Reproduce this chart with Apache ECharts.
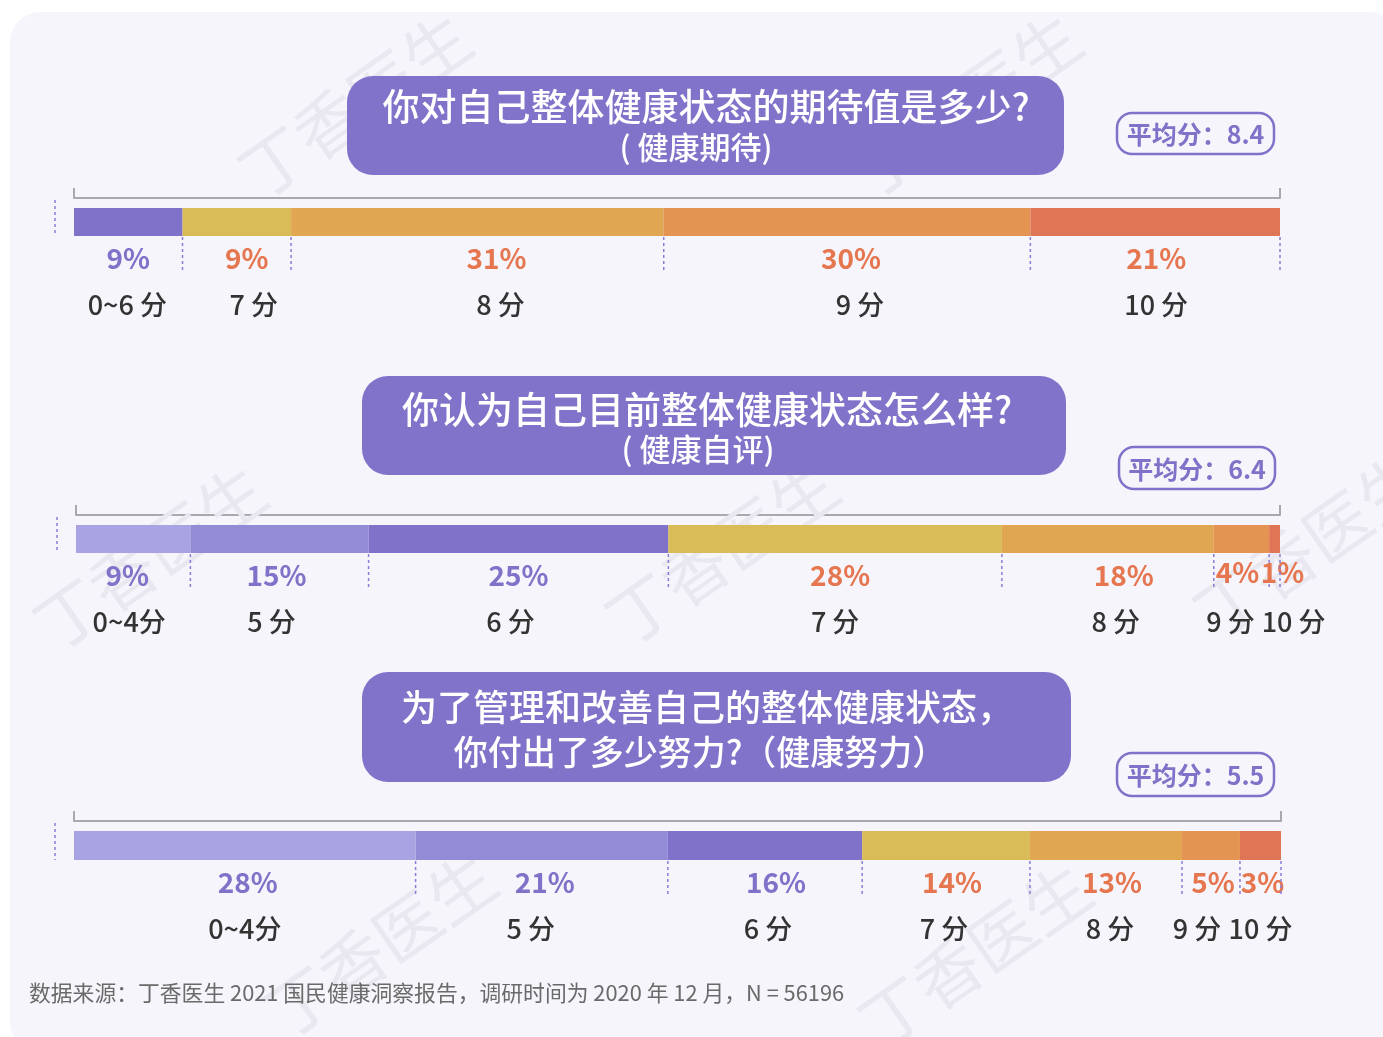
<!DOCTYPE html>
<html>
<head>
<meta charset="utf-8">
<script src="https://cdn.jsdelivr.net/npm/echarts@6/dist/echarts.min.js"></script>
<style>html,body{margin:0;padding:0;background:#fff;}#c{width:1383px;height:1037px;}</style>
</head>
<body>
<div id="c"></div>
<script>
// ---------- data ----------
const cats1 = ['0~6 分', '7 分', '8 分', '9 分', '10 分'];
const vals1 = [9.0, 9.0, 30.9, 30.4, 20.7];
const pct1 = ['9%', '9%', '31%', '30%', '21%'];

const cats2 = ['0~4分', '5 分', '6 分', '7 分', '8 分', '9 分', '10 分'];
const vals2 = [9.5, 14.8, 24.9, 27.7, 17.6, 4.6, 0.9];
const pct2 = ['9%', '15%', '25%', '28%', '18%', '4%', '1%'];

const cats3 = ['0~4分', '5 分', '6 分', '7 分', '8 分', '9 分', '10 分'];
const vals3 = [28.3, 20.9, 16.1, 13.9, 12.6, 4.8, 3.4];
const pct3 = ['28%', '21%', '16%', '14%', '13%', '5%', '3%'];

const titles1 = ['你对自己整体健康状态的期待值是多少?', '( 健康期待)'];
const titles2 = ['你认为自己目前整体健康状态怎么样?', '( 健康自评)'];
const titles3 = ['为了管理和改善自己的整体健康状态，', '你付出了多少努力?（健康努力）'];
const avgLabels = ['平均分：8.4', '平均分：6.4', '平均分：5.5'];
const sourceNote = '数据来源：丁香医生 2021 国民健康洞察报告，调研时间为 2020 年 12 月，N = 56196';

// ---------- styles / layout ----------
const FONT = '"Noto Sans CJK SC", "Noto Sans", sans-serif';
const PURPLE = '#7f72c8';
const ORANGE = '#e5764f';
const colors5 = ['#7f72c8', '#d9bb58', '#e0a652', '#e39452', '#e07556'];
const colors7 = ['#a8a3e3', '#928bd6', '#7f72c8', '#d9bb58', '#e0a652', '#e39452', '#e07556'];
const gridDefs = [
  {left: 74, top: 208, width: 1206, height: 28},
  {left: 76, top: 525, width: 1204, height: 28},
  {left: 74, top: 831, width: 1207, height: 29}
];
// label nudges (px) relative to segment centre
const dxP = [[0, 10, 19, 4, 1], [-6, -3, 0, 5, 16, -4, 8], [3, 3, 11, 6, 6, 2, 2]];
const dyP = [[0, 0, 0, 0, 0], [0, 0, 0, 0, 0, -3, -3], [0, 0, 0, 0, 0, 0, 0]];
const dxS = [[-1, 17, 23, 13, 1], [-4, -8, -8, 0, 8, -11, 19], [0, -11, 3, -2, 4, -14, 0]];
const nPurple = [1, 3, 3];

const charts = [
  {cats: cats1, vals: vals1, pct: pct1, colors: colors5},
  {cats: cats2, vals: vals2, pct: pct2, colors: colors7},
  {cats: cats3, vals: vals3, pct: pct3, colors: colors7}
];

const series = [];
charts.forEach((c, gi) => {
  c.vals.forEach((v, i) => {
    series.push({
      type: 'bar', xAxisIndex: gi, yAxisIndex: gi, stack: 's' + gi,
      data: [v], barWidth: gridDefs[gi].height, silent: true, z: 3,
      itemStyle: {color: c.colors[i]}
    });
  });
  let acc = 0;
  const segs = c.vals.map((v, i) => { const s = acc; acc += v; return [s, acc, 0, i]; });
  series.push({
    type: 'custom', xAxisIndex: gi, yAxisIndex: gi, data: segs, encode: {x: [0, 1], y: 2},
    silent: true, z: 5, clip: false,
    renderItem: function (params, api) {
      const i = api.value(3);
      const p0 = api.coord([api.value(0), 0]);
      const p1 = api.coord([api.value(1), 0]);
      const half = api.size([0, 1])[1] / 2;
      const top = p0[1] - half, bottom = p0[1] + half;
      const cx = (p0[0] + p1[0]) / 2;
      const dash = {stroke: '#8a7dd8', lineWidth: 1.5, lineDash: [3, 3]};
      const children = [
        {type: 'text', style: {text: c.pct[i], x: cx + dxP[gi][i], y: bottom + 22 + dyP[gi][i],
          fill: i < nPurple[gi] ? PURPLE : ORANGE, font: 'bold 28px ' + FONT, align: 'center', verticalAlign: 'middle'}},
        {type: 'text', style: {text: c.cats[i], x: cx + dxS[gi][i], y: bottom + 69,
          fill: '#333333', font: '500 27px ' + FONT, align: 'center', verticalAlign: 'middle'}},
        {type: 'line', shape: {x1: p1[0], y1: bottom + 1, x2: p1[0], y2: bottom + 35}, style: dash}
      ];
      if (i === 0) {
        children.push({type: 'line', shape: {x1: p0[0] - 19, y1: top - 8, x2: p0[0] - 19, y2: bottom}, style: dash});
      }
      return {type: 'group', children: children};
    }
  });
});

const axisColor = '#a8a8ad';
const xAxis = gridDefs.map((g, i) => ({
  gridIndex: i, type: 'value', min: 0, max: 100, interval: 100, position: 'top', offset: 10,
  axisLine: {show: true, lineStyle: {color: axisColor, width: 2}},
  axisTick: {show: true, inside: false, length: 10, lineStyle: {color: axisColor, width: 2}},
  axisLabel: {show: false}, splitLine: {show: false}
}));
const yAxis = gridDefs.map((g, i) => ({
  gridIndex: i, type: 'category', data: ['q'], show: false
}));

// watermark
const wmPos = [[355, 105], [965, 105], [150, 557], [722, 552], [1310, 545], [380, 945], [975, 955]];
const graphic = [
  {type: 'rect', z: 0, shape: {x: 10, y: 12, width: 1390, height: 1040, r: 30}, style: {fill: '#f6f5fb'}}
];
wmPos.forEach(p => {
  graphic.push({type: 'text', z: 1, x: p[0], y: p[1], rotation: 35 * Math.PI / 180,
    style: {text: '丁香医生', fill: '#e9e7ef', font: '66px ' + FONT, align: 'center', verticalAlign: 'middle'}});
});
const boxes = [
  {x: 347, y: 76, w: 717, h: 99, t: titles1, tx: [706, 696], ty: [107, 147], fs: [37, 31]},
  {x: 362, y: 376, w: 704, h: 99, t: titles2, tx: [707, 698], ty: [410, 449], fs: [37, 31]},
  {x: 362, y: 672, w: 709, h: 110, t: titles3, tx: [707, 700], ty: [707, 752], fs: [36, 34]}
];
boxes.forEach(b => {
  graphic.push({type: 'rect', z: 10, shape: {x: b.x, y: b.y, width: b.w, height: b.h, r: 26}, style: {fill: '#8073c9'}});
  b.t.forEach((t, k) => {
    graphic.push({type: 'text', z: 11, x: b.tx[k], y: b.ty[k],
      style: {text: t, fill: '#ffffff', font: '500 ' + b.fs[k] + 'px ' + FONT, align: 'center', verticalAlign: 'middle'}});
  });
});
const avgBoxes = [[1117, 113, 157, 41], [1119, 447, 156, 42], [1117, 753, 157, 43]];
avgBoxes.forEach((a, k) => {
  graphic.push({type: 'rect', z: 10, shape: {x: a[0], y: a[1], width: a[2], height: a[3], r: 15},
    style: {fill: 'none', stroke: PURPLE, lineWidth: 2.5}});
  graphic.push({type: 'text', z: 11, x: a[0] + a[2] / 2, y: a[1] + a[3] / 2 + 1,
    style: {text: avgLabels[k], fill: PURPLE, font: 'bold 25px ' + FONT, align: 'center', verticalAlign: 'middle'}});
});
graphic.push({type: 'text', z: 11, x: 29, y: 993,
  style: {text: sourceNote, fill: '#6a6a6a', font: '21.8px ' + FONT, align: 'left', verticalAlign: 'middle'}});

const chart = echarts.init(document.getElementById('c'));
chart.setOption({
  animation: false,
  backgroundColor: '#ffffff',
  grid: gridDefs.map(g => Object.assign({containLabel: false}, g)),
  xAxis: xAxis,
  yAxis: yAxis,
  series: series,
  graphic: graphic
});
</script>
</body>
</html>
